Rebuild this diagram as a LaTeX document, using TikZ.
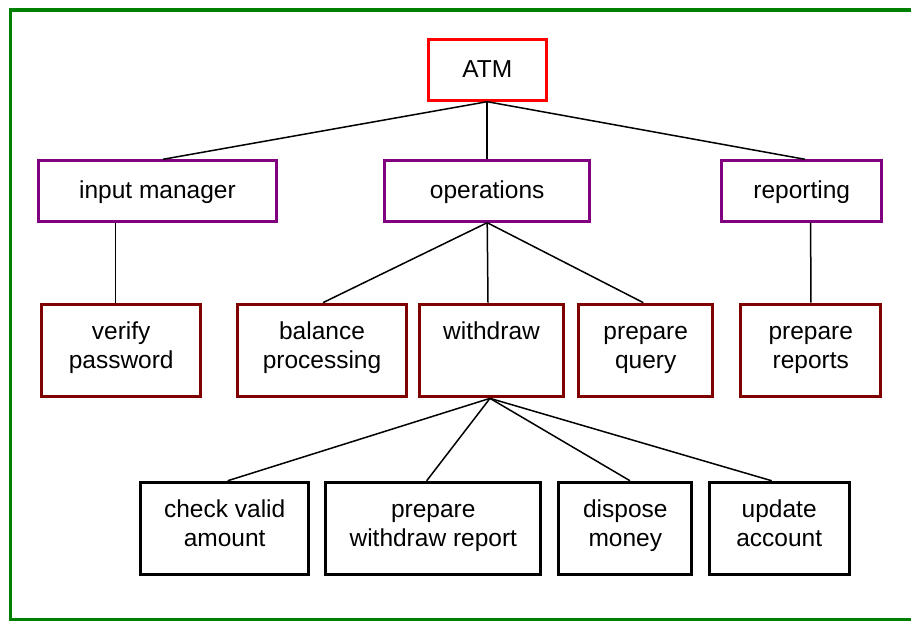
\documentclass[tikz,border=0pt]{standalone}
\usepackage{fontspec}
\setmainfont{Liberation Sans}
\definecolor{atmred}{RGB}{255,0,0}
\definecolor{grouppurple}{RGB}{128,0,128}
\definecolor{leafred}{RGB}{128,0,0}
\definecolor{framegreen}{RGB}{0,128,0}
\begin{document}
\begin{tikzpicture}[x=1pt,y=-1pt,
  boxbase/.style={draw, line width=3pt, inner sep=0pt, fill=white, align=center,
    font=\fontsize{24.5pt}{28.5pt}\selectfont},
  onelinebox/.style={boxbase, minimum height=60.4pt, text height=18pt, text depth=3pt},
  twolinebox/.style={boxbase, minimum height=92.7pt, text height=40pt, text depth=5pt},
  rootbox/.style={onelinebox, draw=atmred},
  groupbox/.style={onelinebox, draw=grouppurple},
  leafbox/.style={twolinebox, draw=leafred},
  taskbox/.style={twolinebox, draw=black},
  link/.style={line width=1.5pt, black}]

\useasboundingbox (0,0) rectangle (911,621);
\clip (0,0) rectangle (911,621);

% outer frame (open to the right)
\draw[framegreen, line width=3.5pt] (10.5,10) rectangle (940,619.5);

% top
\node[rootbox, minimum width=118pt] (atm) at (487.2,70) {ATM};

% second level
\node[groupbox, minimum width=238.6pt] (im)  at (157.5,191) {input manager};
\node[groupbox, minimum width=204.7pt] (ops) at (487.2,191) {operations};
\node[groupbox, minimum width=160.3pt] (rep) at (801.7,191) {reporting};

% third level
\node[leafbox, minimum width=159.3pt] (vp)  at (121.2,350.5) {verify\\password};
\node[leafbox, minimum width=168.6pt] (bal) at (322,350.5)   {balance\\processing};
\node[leafbox, minimum width=144pt]   (wd)  at (491.5,350.5) {withdraw\\\strut};
\node[leafbox, minimum width=133.7pt] (pq)  at (645.7,350.5) {prepare\\query};
\node[leafbox, minimum width=140pt]   (pr)  at (810.8,350.5) {prepare\\reports};

% fourth level
\node[taskbox, minimum width=167.7pt] (cva) at (224.7,528.6) {check valid\\amount};
\node[taskbox, minimum width=215pt]   (pwr) at (433.3,528.6) {prepare\\withdraw report};
\node[taskbox, minimum width=133pt]   (dm)  at (625.3,528.6) {dispose\\money};
\node[taskbox, minimum width=140pt]   (ua)  at (779.2,528.6) {update\\account};

% connectors
\draw[link] (atm.south) -- ([xshift=5.5pt]im.north);
\draw[link] (atm.south) -- (ops.north);
\draw[link] (atm.south) -- ([xshift=3.3pt]rep.north);

\draw[link] ([xshift=-41.8pt]im.south) -- ([xshift=-5.5pt]vp.north);

\draw[link] (ops.south) -- ([xshift=1pt]bal.north);
\draw[link] (ops.south) -- ([xshift=-3.5pt]wd.north);
\draw[link] (ops.south) -- ([xshift=-2.4pt]pq.north);

\draw[link] ([xshift=9pt]rep.south) -- (pr.north);

\draw[link] ([xshift=-1.5pt]wd.south) -- ([xshift=3pt]cva.north);
\draw[link] ([xshift=-1.5pt]wd.south) -- ([xshift=-6.6pt]pwr.north);
\draw[link] ([xshift=-1.5pt]wd.south) -- ([xshift=4.7pt]dm.north);
\draw[link] ([xshift=-1.5pt]wd.south) -- ([xshift=-7.5pt]ua.north);
\end{tikzpicture}
\end{document}
